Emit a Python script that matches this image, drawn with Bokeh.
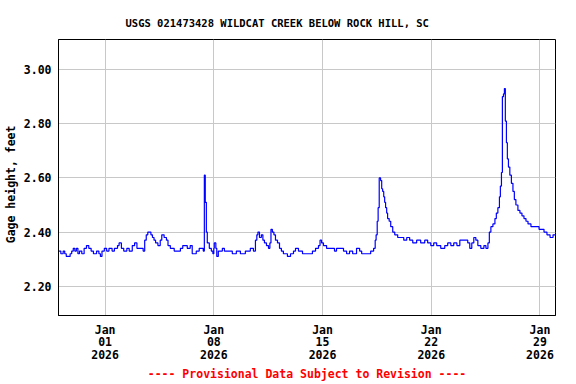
from bokeh.plotting import figure
from bokeh.models import FixedTicker, Range1d, NumeralTickFormatter
from bokeh.embed import file_html
from bokeh.resources import INLINE

# Time axis: days since 2025-12-29 00:00
days = [
    0.00, 0.15, 0.30, 0.40, 0.50, 0.75, 0.85, 0.95, 1.05, 1.15, 1.25, 1.35, 1.50, 1.65, 1.80, 1.95,
    2.10, 2.25, 2.45, 2.60, 2.70, 2.80, 2.95, 3.10, 3.25, 3.45, 3.60, 3.80, 3.90, 4.05, 4.20, 4.40,
    4.55, 4.75, 4.90, 5.05, 5.30, 5.45, 5.55, 5.65, 5.75, 5.95, 6.05, 6.15, 6.25, 6.40, 6.55, 6.65,
    6.80, 6.95, 7.05, 7.20, 7.45, 7.70, 7.85, 8.00,
    8.29, 8.48, 8.61, 8.87, 9.06, 9.32, 9.39, 9.45, 9.52, 9.58, 9.71, 9.84, 9.94, 10.00, 10.03, 10.13,
    10.19, 10.29, 10.35, 10.55, 10.68, 10.94, 11.19, 11.45, 11.71, 12.03, 12.35, 12.55, 12.68, 12.77,
    12.84, 12.94, 13.06, 13.16, 13.26, 13.39, 13.52, 13.61, 13.68, 13.77, 13.87, 13.97, 14.10, 14.23,
    14.35, 14.48, 14.74, 14.94, 15.13, 15.26, 15.45, 15.71, 15.97,
    16.10, 16.35, 16.55, 16.74, 16.84, 16.94, 17.06, 17.26, 17.52, 17.77, 17.90, 18.16, 18.35, 18.55,
    18.74, 18.94, 19.19, 19.39, 19.52, 19.84, 20.10, 20.29, 20.39, 20.45, 20.52, 20.58, 20.65, 20.74,
    20.81, 20.87, 20.94, 21.00, 21.06, 21.13, 21.19, 21.29, 21.39, 21.52, 21.65, 21.84, 22.03, 22.23,
    22.42, 22.61, 22.81, 23.06, 23.32, 23.58, 23.77, 23.97, 24.16,
    24.35, 24.61, 24.87, 25.06, 25.26, 25.45, 25.65, 25.84, 26.10, 26.35, 26.48, 26.61, 26.74, 26.87,
    27.00, 27.19, 27.39, 27.52, 27.65, 27.74, 27.84, 27.97, 28.10, 28.19, 28.29, 28.39, 28.45, 28.52,
    28.58, 28.65, 28.71, 28.77, 28.84, 28.90, 28.97, 29.06, 29.16, 29.26, 29.35, 29.45, 29.58, 29.71,
    29.84, 29.97, 30.10, 30.23, 30.42, 30.68, 30.94, 31.13, 31.26, 31.45, 31.65, 31.84, 31.97,
]

gage_ft = [
    2.33, 2.32, 2.33, 2.32, 2.31, 2.32, 2.33, 2.34, 2.33, 2.34, 2.32, 2.33, 2.32, 2.34, 2.35, 2.34,
    2.33, 2.32, 2.33, 2.32, 2.31, 2.33, 2.34, 2.33, 2.34, 2.33, 2.34, 2.35, 2.36, 2.34, 2.33, 2.34,
    2.33, 2.35, 2.36, 2.34, 2.34, 2.33, 2.37, 2.39, 2.40, 2.39, 2.38, 2.37, 2.36, 2.35, 2.37, 2.39,
    2.38, 2.37, 2.35, 2.34, 2.33, 2.33, 2.34, 2.35,
    2.34, 2.35, 2.32, 2.33, 2.34, 2.33, 2.61, 2.51, 2.40, 2.36, 2.34, 2.33, 2.32, 2.34, 2.36, 2.34,
    2.31, 2.33, 2.33, 2.34, 2.33, 2.33, 2.32, 2.33, 2.32, 2.33, 2.34, 2.33, 2.37, 2.39,
    2.40, 2.38, 2.39, 2.37, 2.36, 2.35, 2.34, 2.36, 2.41, 2.40, 2.39, 2.37, 2.36, 2.34,
    2.33, 2.32, 2.31, 2.32, 2.33, 2.34, 2.33, 2.32, 2.32,
    2.32, 2.33, 2.34, 2.35, 2.37, 2.36, 2.35, 2.34, 2.34, 2.33, 2.34, 2.34, 2.33, 2.32,
    2.33, 2.32, 2.34, 2.33, 2.32, 2.32, 2.33, 2.34, 2.37, 2.39, 2.44, 2.49, 2.60, 2.59,
    2.56, 2.55, 2.53, 2.51, 2.49, 2.47, 2.45, 2.44, 2.42, 2.40, 2.39, 2.38, 2.38, 2.37,
    2.38, 2.37, 2.36, 2.37, 2.36, 2.37, 2.36, 2.35, 2.36,
    2.35, 2.34, 2.35, 2.36, 2.35, 2.36, 2.35, 2.37, 2.37, 2.36, 2.34, 2.36, 2.38, 2.37,
    2.35, 2.34, 2.35, 2.34, 2.36, 2.40, 2.42, 2.43, 2.45, 2.47, 2.49, 2.53, 2.57, 2.62,
    2.90, 2.91, 2.93, 2.81, 2.73, 2.67, 2.64, 2.61, 2.58, 2.55, 2.52, 2.50, 2.48, 2.47,
    2.46, 2.45, 2.44, 2.43, 2.42, 2.42, 2.41, 2.41, 2.40, 2.39, 2.38, 2.39, 2.39,
]

x_tick_days = [3, 10, 17, 24, 31]
x_tick_labels = ["Jan\n01\n2026", "Jan\n08\n2026", "Jan\n15\n2026", "Jan\n22\n2026", "Jan\n29\n2026"]
y_ticks = [2.20, 2.40, 2.60, 2.80, 3.00]

title_text = "USGS 021473428 WILDCAT CREEK BELOW ROCK HILL, SC"
y_label = "Gage height, feet\u00a0\u00a0"
footer = "---- Provisional Data Subject to Revision ----"

FONT = "DejaVu Sans Mono"

p = figure(width=576, height=384, output_backend="svg", toolbar_location=None,
           x_range=Range1d(0, 32), y_range=Range1d(2.092, 3.111),
           min_border_left=58, min_border_right=21, min_border_top=39, min_border_bottom=68,
           title=title_text)

p.title.text_font = FONT
p.title.text_font_style = "bold"
p.title.text_font_size = "10.5px"
p.title.text_color = "black"
p.title.align = "left"
p.title.offset = 67
p.title.standoff = 21

p.step(days, gage_ft, mode="after", line_color="#0000ff", line_width=1.2)

p.outline_line_color = "black"
p.outline_line_width = 1
p.background_fill_color = "white"
p.border_fill_color = "white"

p.xgrid.ticker = FixedTicker(ticks=x_tick_days)
p.ygrid.ticker = FixedTicker(ticks=y_ticks)
p.grid.grid_line_color = "#c8c8c8"
p.grid.grid_line_width = 1

xa = p.xaxis[0]
xa.ticker = FixedTicker(ticks=x_tick_days)
xa.major_label_overrides = {d: l for d, l in zip(x_tick_days, x_tick_labels)}
xa.axis_label = footer
xa.axis_label_text_color = "#ff0000"
xa.axis_label_standoff = 2
xa.major_label_standoff = 1
xa.major_label_text_line_height = 0.92

ya = p.yaxis[0]
ya.ticker = FixedTicker(ticks=y_ticks)
ya.formatter = NumeralTickFormatter(format="0.00")
ya.axis_label = y_label
ya.axis_label_text_color = "black"
ya.axis_label_standoff = 3
ya.major_label_standoff = 1

for ax in (xa, ya):
    ax.axis_line_color = "black"
    ax.major_tick_line_color = None
    ax.minor_tick_line_color = None
    ax.major_label_text_font = FONT
    ax.major_label_text_font_style = "bold"
    ax.major_label_text_font_size = "11.5px"
    ax.major_label_text_color = "black"
    ax.axis_label_text_font = FONT
    ax.axis_label_text_font_style = "bold"
    ax.axis_label_text_font_size = "11.5px"

open("out.html", "w").write(file_html(p, INLINE))
